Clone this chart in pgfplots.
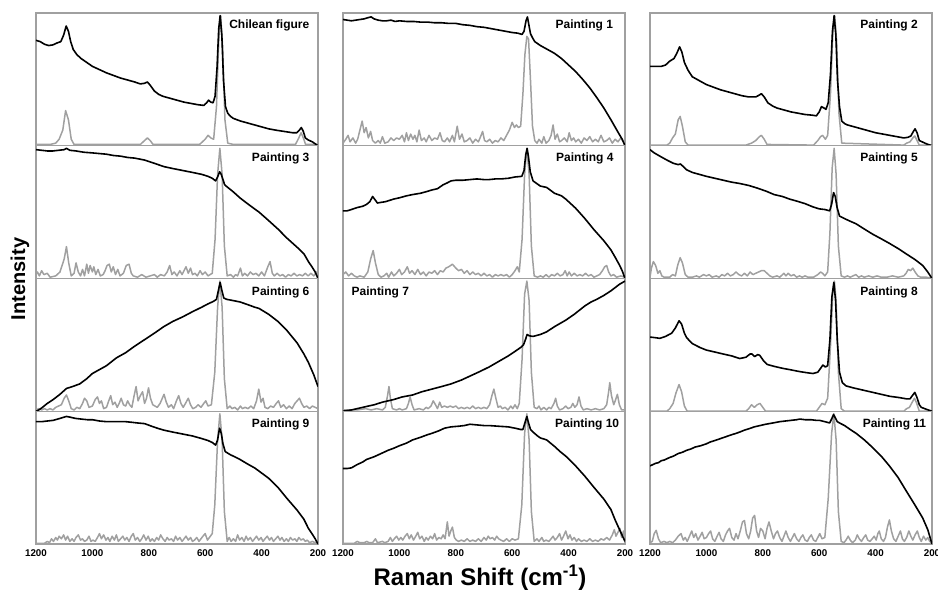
\documentclass[border=0pt]{standalone}
\usepackage{fontspec}
\setmainfont{Liberation Sans}
\usepackage{pgfplots}
\pgfplotsset{compat=1.18}
\definecolor{framegray}{RGB}{160,160,160}
\definecolor{specgray}{RGB}{160,160,160}
\pgfplotsset{
  panel/.style={scale only axis, width=282pt, height=132.75pt,
    xmin=200, xmax=1200, x dir=reverse, ymin=0, ymax=1.02,
    ytick=\empty, xtick={200,400,600,800,1000,1200}, xticklabels={},
    tick align=inside, xtick pos=bottom, major tick length=0pt,
    tick style={draw=none},
    axis line style={framegray, line width=1.4pt},
    clip=true,
    /pgf/number format/assume math mode=true,
    /pgf/number format/1000 sep={},
    xticklabel style={font=\bfseries\fontsize{9.8}{11}\selectfont, yshift=-2pt},
  },
  bottomrow/.style={xticklabels=\empty, xticklabel={\pgfmathprintnumber{\tick}}},
  blk/.style={black, line width=1.6pt, line join=round},
  gry/.style={specgray, line width=1.5pt, line join=round},
}
\newcommand{\plabel}[3]{\node[anchor=#3, font=\bfseries\fontsize{12}{14}\selectfont, inner sep=0pt] at (rel axis cs:#1) {#2};}
\begin{document}
\begin{tikzpicture}
\path[use as bounding box] (0,0) rectangle (938pt,590pt);
% ===== Row 1 =====
\begin{axis}[panel, at={(36pt,444.25pt)}, anchor=south west]
\addplot[gry] coordinates {(1200,0.01)(1150,0.01)(1130,0.02)(1118,0.05)(1105,0.12)(1095,0.27)(1085,0.2)(1075,0.05)(1065,0.01)(1000,0.01)(900,0.01)(830,0.01)(815,0.04)(805,0.06)(795,0.04)(785,0.01)(700,0.01)(620,0.01)(600,0.05)(590,0.08)(580,0.06)(570,0.05)(560,0.3)(552,0.8)(545,1)(538,0.75)(530,0.2)(520,0.02)(500,0.01)(400,0.01)(300,0.01)(280,0.01)(268,0.06)(260,0.1)(252,0.06)(244,0.01)(200,0.01)};
\addplot[blk] coordinates {(1200,0.81)(1185,0.80)(1170,0.78)(1155,0.77)(1140,0.775)(1125,0.79)(1112,0.80)(1102,0.85)(1093,0.92)(1085,0.88)(1077,0.80)(1068,0.74)(1055,0.70)(1040,0.67)(1020,0.64)(1000,0.61)(975,0.585)(950,0.56)(925,0.54)(900,0.52)(875,0.505)(850,0.49)(830,0.475)(815,0.48)(805,0.49)(795,0.465)(780,0.42)(765,0.395)(750,0.38)(725,0.365)(700,0.35)(675,0.335)(650,0.325)(625,0.315)(605,0.31)(595,0.33)(588,0.35)(580,0.335)(572,0.33)(565,0.38)(558,0.6)(552,0.9)(547,1.0)(541,0.85)(535,0.5)(528,0.3)(520,0.25)(510,0.225)(500,0.21)(475,0.19)(450,0.175)(425,0.16)(400,0.145)(375,0.13)(350,0.12)(320,0.11)(290,0.10)(275,0.10)(266,0.12)(259,0.14)(252,0.11)(245,0.06)(235,0.045)(220,0.03)(210,0.015)(200,0.0)};
\plabel{0.97,0.905}{Chilean figure}{east}
\end{axis}
\begin{axis}[panel, at={(343pt,444.25pt)}, anchor=south west]
\addplot[gry] coordinates {(1200,0.02)(1190,0.05)(1182,0.08)(1175,0.03)(1165,0.06)(1155,0.02)(1148,0.05)(1140,0.12)(1132,0.19)(1125,0.1)(1118,0.14)(1110,0.06)(1102,0.11)(1095,0.04)(1085,0.02)(1075,0.04)(1068,0.02)(1060,0.07)(1052,0.02)(1040,0.03)(1030,0.06)(1020,0.04)(1010,0.06)(1000,0.05)(990,0.08)(982,0.03)(975,0.1)(968,0.04)(960,0.09)(952,0.05)(945,0.08)(938,0.03)(930,0.12)(922,0.04)(912,0.06)(905,0.03)(895,0.08)(885,0.04)(875,0.06)(865,0.05)(856,0.1)(848,0.04)(840,0.03)(830,0.06)(822,0.03)(812,0.08)(805,0.03)(795,0.15)(787,0.05)(778,0.09)(770,0.03)(760,0.04)(750,0.06)(740,0.02)(730,0.05)(720,0.03)(712,0.07)(705,0.11)(698,0.04)(690,0.03)(680,0.05)(670,0.02)(660,0.04)(650,0.03)(640,0.06)(630,0.04)(620,0.08)(610,0.12)(600,0.18)(592,0.14)(585,0.16)(578,0.14)(570,0.15)(562,0.4)(555,0.7)(548,0.84)(542,0.82)(535,0.5)(528,0.15)(520,0.04)(512,0.02)(505,0.05)(495,0.02)(488,0.07)(480,0.02)(470,0.04)(462,0.08)(455,0.16)(448,0.05)(440,0.09)(432,0.03)(425,0.04)(415,0.06)(405,0.03)(398,0.1)(390,0.04)(382,0.06)(375,0.03)(365,0.05)(355,0.02)(345,0.06)(335,0.04)(325,0.07)(315,0.03)(305,0.05)(295,0.03)(285,0.08)(275,0.03)(265,0.04)(255,0.06)(245,0.02)(235,0.05)(225,0.03)(215,0.06)(205,0.03)(200,0.01)};
\addplot[blk] coordinates {(1200,0.97)(1185,0.965)(1170,0.96)(1155,0.965)(1140,0.97)(1125,0.975)(1110,0.985)(1100,0.99)(1090,0.975)(1075,0.965)(1060,0.96)(1045,0.96)(1030,0.965)(1015,0.955)(1000,0.96)(975,0.955)(950,0.955)(925,0.95)(900,0.95)(875,0.945)(850,0.945)(825,0.94)(800,0.94)(775,0.93)(750,0.925)(725,0.915)(700,0.91)(675,0.9)(650,0.89)(625,0.88)(600,0.87)(580,0.865)(565,0.855)(558,0.88)(551,0.96)(546,0.99)(541,0.93)(535,0.86)(528,0.83)(520,0.80)(510,0.785)(500,0.77)(475,0.74)(450,0.71)(425,0.67)(400,0.62)(375,0.57)(350,0.51)(325,0.445)(300,0.37)(275,0.29)(250,0.20)(225,0.105)(210,0.05)(200,0.0)};
\plabel{0.958,0.905}{Painting 1}{east}
\end{axis}
\begin{axis}[panel, at={(650pt,444.25pt)}, anchor=south west]
\addplot[gry] coordinates {(1200,0.005)(1140,0.005)(1130,0.02)(1120,0.06)(1110,0.09)(1100,0.2)(1093,0.225)(1085,0.15)(1075,0.03)(1065,0.005)(860,0.005)(840,0.02)(825,0.04)(812,0.07)(805,0.08)(795,0.05)(785,0.01)(620,0.005)(605,0.04)(595,0.07)(588,0.08)(578,0.05)(570,0.08)(560,0.4)(552,0.85)(545,1)(538,0.8)(530,0.25)(520,0.02)(300,0.005)(290,0.02)(278,0.03)(268,0.06)(261,0.075)(253,0.04)(245,0.005)(200,0.005)};
\addplot[blk] coordinates {(1200,0.61)(1160,0.61)(1145,0.62)(1130,0.65)(1115,0.67)(1105,0.71)(1095,0.76)(1087,0.72)(1078,0.64)(1065,0.58)(1050,0.53)(1025,0.50)(1000,0.47)(975,0.45)(950,0.43)(925,0.415)(900,0.40)(875,0.385)(850,0.375)(825,0.375)(812,0.39)(805,0.40)(795,0.375)(782,0.33)(765,0.305)(750,0.29)(725,0.275)(700,0.26)(675,0.25)(650,0.24)(625,0.235)(610,0.23)(600,0.26)(592,0.30)(583,0.29)(576,0.28)(568,0.33)(560,0.55)(553,0.88)(547,1.0)(541,0.85)(535,0.5)(528,0.3)(520,0.19)(510,0.17)(500,0.16)(475,0.145)(450,0.13)(425,0.115)(400,0.10)(375,0.09)(350,0.08)(325,0.07)(300,0.06)(285,0.065)(275,0.075)(266,0.11)(260,0.13)(253,0.1)(245,0.04)(235,0.03)(220,0.015)(200,0.0)};
\plabel{0.95,0.905}{Painting 2}{east}
\end{axis}
% ===== Row 2 =====
\begin{axis}[panel, at={(36pt,311.5pt)}, anchor=south west]
\addplot[gry] coordinates {(1200,0.03)(1195,0.05)(1188,0.02)(1180,0.06)(1172,0.03)(1160,0.04)(1150,0.01)(1130,0.02)(1115,0.05)(1100,0.15)(1092,0.245)(1084,0.12)(1075,0.02)(1065,0.04)(1058,0.12)(1050,0.05)(1042,0.02)(1035,0.07)(1028,0.02)(1020,0.11)(1014,0.04)(1008,0.1)(1000,0.05)(995,0.09)(988,0.03)(980,0.07)(972,0.02)(962,0.03)(955,0.06)(948,0.1)(940,0.11)(933,0.05)(926,0.09)(918,0.03)(910,0.07)(902,0.02)(890,0.04)(880,0.1)(870,0.11)(862,0.04)(855,0.02)(840,0.01)(825,0.03)(810,0.01)(795,0.02)(780,0.03)(770,0.01)(758,0.03)(745,0.02)(735,0.05)(726,0.1)(718,0.03)(710,0.05)(700,0.02)(690,0.06)(682,0.03)(675,0.06)(668,0.09)(660,0.04)(652,0.08)(645,0.03)(636,0.04)(628,0.02)(618,0.06)(610,0.03)(600,0.05)(590,0.02)(575,0.04)(565,0.3)(556,0.8)(548,1)(540,0.8)(532,0.25)(522,0.02)(510,0.03)(500,0.01)(492,0.03)(485,0.02)(475,0.08)(468,0.02)(460,0.04)(450,0.02)(440,0.05)(430,0.03)(420,0.04)(410,0.02)(400,0.05)(390,0.02)(378,0.09)(370,0.13)(362,0.04)(355,0.02)(345,0.04)(335,0.02)(325,0.03)(315,0.01)(305,0.03)(295,0.02)(285,0.04)(275,0.02)(265,0.03)(255,0.02)(245,0.04)(235,0.02)(225,0.04)(215,0.02)(205,0.05)(200,0.02)};
\addplot[blk] coordinates {(1200,0.99)(1180,0.985)(1160,0.98)(1140,0.98)(1120,0.985)(1100,0.99)(1092,1.0)(1080,0.985)(1058,0.98)(1030,0.97)(1000,0.965)(975,0.96)(950,0.955)(925,0.945)(900,0.94)(875,0.93)(850,0.925)(815,0.91)(780,0.885)(747,0.86)(715,0.845)(680,0.83)(645,0.815)(612,0.80)(590,0.785)(575,0.77)(563,0.75)(556,0.78)(549,0.82)(543,0.80)(537,0.76)(531,0.72)(520,0.7)(500,0.665)(477,0.62)(450,0.575)(425,0.535)(409,0.51)(375,0.445)(342,0.38)(310,0.31)(274,0.24)(250,0.19)(234,0.13)(220,0.085)(210,0.05)(200,0.0)};
\plabel{0.97,0.905}{Painting 3}{east}
\end{axis}
\begin{axis}[panel, at={(343pt,311.5pt)}, anchor=south west]
\addplot[gry] coordinates {(1200,0.03)(1190,0.05)(1180,0.02)(1170,0.04)(1160,0.02)(1150,0.01)(1140,0.02)(1125,0.01)(1112,0.05)(1102,0.15)(1093,0.215)(1085,0.12)(1075,0.03)(1065,0.01)(1055,0.02)(1045,0.04)(1038,0.01)(1028,0.05)(1020,0.02)(1010,0.04)(1000,0.07)(992,0.03)(982,0.05)(972,0.09)(964,0.04)(955,0.06)(945,0.03)(935,0.07)(925,0.03)(915,0.05)(905,0.02)(895,0.05)(885,0.04)(875,0.06)(865,0.03)(855,0.06)(845,0.05)(835,0.08)(825,0.09)(812,0.11)(800,0.08)(790,0.06)(780,0.07)(770,0.04)(760,0.06)(750,0.03)(740,0.05)(730,0.03)(720,0.04)(710,0.02)(700,0.04)(690,0.02)(680,0.03)(670,0.01)(660,0.03)(650,0.02)(640,0.03)(630,0.02)(620,0.03)(610,0.01)(600,0.03)(590,0.06)(582,0.09)(575,0.05)(565,0.3)(556,0.8)(548,1)(540,0.8)(532,0.25)(522,0.02)(510,0.01)(500,0.02)(490,0.01)(480,0.03)(470,0.01)(460,0.03)(450,0.02)(440,0.04)(430,0.02)(420,0.03)(412,0.06)(405,0.02)(398,0.05)(390,0.02)(380,0.04)(370,0.02)(360,0.03)(350,0.02)(340,0.04)(330,0.02)(320,0.03)(310,0.01)(300,0.02)(290,0.03)(280,0.06)(272,0.09)(265,0.1)(258,0.05)(250,0.02)(240,0.03)(230,0.01)(215,0.02)(200,0.01)};
\addplot[blk] coordinates {(1200,0.52)(1185,0.52)(1170,0.53)(1150,0.545)(1130,0.555)(1116,0.57)(1105,0.59)(1095,0.63)(1088,0.61)(1078,0.58)(1065,0.585)(1050,0.59)(1035,0.60)(1021,0.61)(1000,0.62)(975,0.635)(953,0.645)(925,0.655)(900,0.67)(885,0.68)(865,0.69)(845,0.72)(830,0.735)(817,0.75)(800,0.755)(775,0.755)(750,0.76)(725,0.765)(700,0.76)(682,0.76)(660,0.765)(640,0.765)(614,0.77)(590,0.78)(566,0.785)(558,0.83)(552,0.95)(547,1.0)(542,0.93)(536,0.82)(526,0.75)(510,0.725)(500,0.71)(478,0.70)(450,0.655)(425,0.635)(410,0.61)(375,0.54)(342,0.46)(310,0.375)(275,0.29)(250,0.22)(234,0.16)(220,0.105)(210,0.06)(200,0.0)};
\plabel{0.96,0.905}{Painting 4}{east}
\end{axis}
\begin{axis}[panel, at={(650pt,311.5pt)}, anchor=south west]
\addplot[gry] coordinates {(1200,0.01)(1195,0.08)(1188,0.13)(1180,0.1)(1172,0.04)(1165,0.06)(1158,0.02)(1150,0.01)(1130,0.01)(1120,0.03)(1110,0.02)(1102,0.1)(1093,0.16)(1085,0.12)(1075,0.03)(1065,0.01)(1050,0.01)(1035,0.02)(1025,0.01)(1010,0.03)(1000,0.02)(990,0.03)(980,0.01)(965,0.02)(955,0.01)(945,0.03)(935,0.02)(925,0.04)(915,0.02)(905,0.03)(895,0.05)(885,0.03)(875,0.02)(865,0.04)(855,0.02)(845,0.05)(835,0.03)(825,0.04)(815,0.05)(805,0.06)(795,0.06)(785,0.04)(775,0.02)(765,0.01)(750,0.02)(740,0.01)(725,0.04)(718,0.02)(710,0.04)(700,0.02)(690,0.03)(680,0.01)(670,0.02)(660,0.01)(650,0.02)(640,0.01)(620,0.01)(605,0.03)(595,0.05)(588,0.04)(580,0.02)(570,0.05)(562,0.35)(554,0.85)(547,1)(540,0.8)(532,0.25)(522,0.02)(510,0.01)(500,0.02)(490,0.01)(480,0.02)(470,0.03)(460,0.01)(450,0.02)(440,0.01)(425,0.02)(410,0.01)(395,0.02)(380,0.01)(360,0.01)(340,0.02)(320,0.01)(300,0.02)(292,0.04)(284,0.07)(276,0.06)(268,0.08)(260,0.05)(250,0.02)(240,0.01)(220,0.01)(200,0.0)};
\addplot[blk] coordinates {(1200,0.99)(1185,0.965)(1165,0.94)(1140,0.91)(1117,0.885)(1100,0.875)(1092,0.88)(1082,0.86)(1070,0.835)(1050,0.815)(1025,0.80)(1000,0.785)(970,0.77)(940,0.755)(910,0.74)(882,0.73)(850,0.715)(820,0.695)(787,0.67)(760,0.645)(730,0.63)(705,0.61)(680,0.595)(650,0.575)(622,0.55)(600,0.535)(580,0.53)(563,0.52)(556,0.57)(549,0.66)(543,0.63)(537,0.55)(528,0.48)(510,0.46)(490,0.44)(469,0.42)(440,0.38)(410,0.34)(380,0.305)(351,0.27)(320,0.23)(292,0.19)(260,0.145)(233,0.10)(215,0.05)(200,0.0)};
\plabel{0.95,0.905}{Painting 5}{east}
\end{axis}
% ===== Row 3 =====
\begin{axis}[panel, at={(36pt,178.75pt)}, anchor=south west]
\addplot[gry] coordinates {(1200,0.01)(1190,0.02)(1180,0.01)(1170,0.02)(1160,0.01)(1150,0.02)(1140,0.01)(1130,0.03)(1110,0.05)(1100,0.1)(1092,0.125)(1084,0.08)(1075,0.02)(1065,0.01)(1055,0.03)(1045,0.02)(1035,0.06)(1028,0.1)(1020,0.08)(1012,0.03)(1000,0.04)(990,0.09)(982,0.11)(975,0.06)(968,0.08)(960,0.02)(950,0.03)(942,0.08)(935,0.12)(928,0.05)(920,0.07)(912,0.03)(905,0.06)(898,0.1)(890,0.05)(882,0.04)(875,0.08)(868,0.05)(860,0.03)(852,0.12)(845,0.19)(838,0.08)(830,0.12)(822,0.15)(815,0.06)(808,0.1)(801,0.18)(794,0.1)(786,0.05)(778,0.04)(770,0.03)(760,0.06)(752,0.1)(746,0.13)(738,0.07)(730,0.03)(720,0.05)(712,0.02)(702,0.08)(694,0.12)(686,0.06)(678,0.03)(670,0.06)(660,0.1)(652,0.05)(644,0.02)(634,0.03)(625,0.05)(615,0.03)(605,0.06)(598,0.08)(590,0.04)(578,0.05)(566,0.3)(556,0.8)(548,1)(540,0.8)(532,0.25)(522,0.02)(512,0.04)(505,0.02)(495,0.03)(485,0.01)(475,0.04)(468,0.02)(458,0.03)(448,0.02)(438,0.04)(428,0.02)(418,0.08)(410,0.17)(402,0.07)(395,0.1)(388,0.03)(378,0.02)(368,0.04)(358,0.03)(348,0.06)(340,0.08)(332,0.03)(322,0.05)(312,0.02)(302,0.04)(292,0.02)(282,0.06)(274,0.08)(266,0.1)(258,0.06)(250,0.03)(240,0.04)(230,0.02)(220,0.04)(210,0.03)(200,0.02)};
\addplot[blk] coordinates {(1200,0.0)(1190,0.01)(1180,0.025)(1160,0.06)(1139,0.09)(1115,0.13)(1092,0.175)(1070,0.19)(1045,0.21)(1020,0.25)(1000,0.29)(975,0.32)(950,0.35)(915,0.41)(882,0.45)(850,0.5)(815,0.55)(780,0.6)(747,0.65)(715,0.69)(680,0.725)(645,0.765)(612,0.80)(590,0.825)(570,0.845)(560,0.86)(553,0.93)(547,0.99)(541,0.93)(534,0.87)(524,0.86)(500,0.85)(477,0.84)(450,0.82)(425,0.80)(409,0.79)(375,0.745)(342,0.69)(310,0.62)(274,0.525)(250,0.44)(234,0.375)(215,0.28)(200,0.19)};
\plabel{0.97,0.895}{Painting 6}{east}
\end{axis}
\begin{axis}[panel, at={(343pt,178.75pt)}, anchor=south west]
\addplot[gry] coordinates {(1200,0.01)(1150,0.01)(1120,0.02)(1100,0.01)(1080,0.02)(1060,0.01)(1050,0.03)(1042,0.12)(1037,0.19)(1032,0.1)(1025,0.02)(1010,0.01)(1000,0.02)(990,0.01)(975,0.02)(968,0.06)(962,0.11)(955,0.05)(948,0.01)(930,0.02)(915,0.01)(905,0.03)(898,0.02)(888,0.04)(880,0.08)(872,0.05)(865,0.02)(857,0.07)(850,0.03)(840,0.04)(830,0.03)(820,0.04)(810,0.03)(800,0.04)(790,0.02)(780,0.03)(770,0.02)(760,0.03)(750,0.02)(740,0.04)(730,0.02)(720,0.03)(710,0.02)(700,0.03)(690,0.02)(680,0.05)(672,0.12)(665,0.17)(658,0.1)(650,0.03)(642,0.04)(635,0.02)(625,0.03)(615,0.01)(605,0.04)(598,0.02)(590,0.05)(582,0.02)(575,0.06)(565,0.4)(556,0.9)(548,1)(540,0.85)(532,0.3)(522,0.03)(512,0.02)(505,0.04)(498,0.01)(488,0.03)(478,0.01)(470,0.03)(462,0.02)(452,0.06)(446,0.1)(440,0.04)(432,0.01)(420,0.02)(410,0.04)(402,0.02)(392,0.03)(385,0.06)(378,0.03)(370,0.05)(363,0.11)(356,0.04)(348,0.01)(335,0.02)(320,0.01)(305,0.02)(290,0.01)(275,0.02)(265,0.05)(258,0.15)(254,0.22)(248,0.12)(240,0.05)(233,0.09)(227,0.13)(220,0.05)(212,0.01)(200,0.01)};
\addplot[blk] coordinates {(1200,0.0)(1170,0.01)(1140,0.025)(1110,0.04)(1089,0.05)(1060,0.07)(1020,0.09)(990,0.11)(953,0.125)(920,0.15)(885,0.17)(850,0.19)(817,0.21)(780,0.24)(750,0.27)(715,0.305)(682,0.34)(650,0.38)(614,0.425)(590,0.46)(570,0.49)(560,0.51)(553,0.55)(547,0.59)(540,0.58)(526,0.575)(500,0.59)(478,0.61)(450,0.65)(410,0.70)(380,0.745)(342,0.81)(320,0.84)(300,0.86)(275,0.89)(250,0.925)(220,0.975)(200,1.0)};
\plabel{0.03,0.895}{Painting 7}{west}
\end{axis}
\begin{axis}[panel, at={(650pt,178.75pt)}, anchor=south west]
\addplot[gry] coordinates {(1200,0.0)(1140,0.0)(1130,0.02)(1118,0.06)(1108,0.14)(1097,0.205)(1088,0.15)(1078,0.04)(1068,0.0)(860,0.0)(850,0.02)(840,0.05)(830,0.03)(820,0.05)(810,0.06)(800,0.03)(790,0.0)(610,0.0)(600,0.03)(590,0.06)(580,0.05)(570,0.1)(560,0.5)(552,0.9)(546,1)(540,0.85)(532,0.3)(522,0.02)(510,0.0)(300,0.0)(290,0.02)(280,0.03)(270,0.07)(262,0.1)(254,0.06)(245,0.0)(200,0.0)};
\addplot[blk] coordinates {(1200,0.57)(1180,0.565)(1165,0.56)(1145,0.575)(1123,0.60)(1110,0.64)(1097,0.695)(1088,0.67)(1078,0.60)(1070,0.565)(1050,0.52)(1023,0.49)(1000,0.47)(970,0.455)(941,0.44)(910,0.425)(882,0.405)(860,0.415)(845,0.44)(838,0.44)(829,0.42)(818,0.435)(811,0.43)(798,0.39)(785,0.36)(760,0.345)(730,0.33)(705,0.32)(670,0.305)(640,0.295)(622,0.29)(605,0.30)(595,0.33)(587,0.355)(578,0.34)(570,0.35)(562,0.55)(555,0.88)(548,0.99)(542,0.85)(536,0.55)(528,0.3)(518,0.22)(505,0.195)(480,0.18)(450,0.165)(410,0.145)(380,0.13)(350,0.115)(316,0.105)(290,0.095)(278,0.095)(268,0.125)(261,0.145)(254,0.11)(245,0.05)(238,0.03)(220,0.015)(200,0.0)};
\plabel{0.95,0.895}{Painting 8}{east}
\end{axis}
% ===== Row 4 =====
\begin{axis}[panel, bottomrow, at={(36pt,46pt)}, anchor=south west]
\addplot[gry] coordinates {(1200,0.005)(1170,0.005)(1160,0.02)(1152,0.01)(1145,0.04)(1138,0.02)(1130,0.05)(1124,0.03)(1118,0.06)(1110,0.04)(1102,0.07)(1095,0.03)(1088,0.06)(1080,0.02)(1072,0.04)(1065,0.02)(1058,0.05)(1050,0.07)(1042,0.03)(1035,0.04)(1028,0.02)(1020,0.03)(1012,0.06)(1005,0.02)(998,0.03)(990,0.02)(982,0.05)(975,0.08)(968,0.04)(960,0.07)(952,0.03)(945,0.05)(938,0.02)(930,0.06)(922,0.03)(915,0.07)(908,0.02)(900,0.04)(892,0.06)(885,0.03)(878,0.05)(870,0.02)(862,0.06)(855,0.08)(848,0.03)(840,0.05)(832,0.02)(825,0.04)(818,0.07)(810,0.03)(802,0.06)(795,0.02)(788,0.04)(780,0.02)(772,0.05)(765,0.03)(758,0.07)(750,0.04)(742,0.02)(735,0.05)(728,0.03)(720,0.04)(712,0.02)(705,0.06)(698,0.03)(690,0.05)(682,0.02)(675,0.04)(668,0.06)(660,0.03)(652,0.05)(645,0.02)(638,0.03)(630,0.05)(622,0.02)(615,0.04)(608,0.06)(600,0.08)(592,0.03)(585,0.05)(575,0.08)(566,0.3)(556,0.8)(548,1)(540,0.8)(532,0.25)(522,0.02)(515,0.05)(508,0.02)(500,0.04)(492,0.02)(485,0.07)(478,0.03)(470,0.05)(462,0.02)(455,0.06)(448,0.03)(440,0.05)(432,0.02)(425,0.04)(418,0.06)(410,0.03)(402,0.05)(395,0.02)(388,0.04)(380,0.06)(372,0.03)(365,0.05)(358,0.02)(350,0.04)(342,0.06)(335,0.03)(328,0.05)(320,0.02)(312,0.04)(305,0.02)(298,0.05)(290,0.03)(282,0.04)(275,0.02)(268,0.05)(260,0.03)(252,0.04)(245,0.02)(238,0.03)(230,0.01)(220,0.02)(210,0.01)(200,0.02)};
\addplot[blk] coordinates {(1200,0.94)(1180,0.94)(1160,0.945)(1139,0.95)(1115,0.965)(1100,0.975)(1092,0.98)(1080,0.975)(1060,0.965)(1040,0.96)(1018,0.955)(1000,0.955)(975,0.945)(950,0.94)(925,0.94)(900,0.94)(882,0.94)(860,0.935)(840,0.93)(815,0.925)(790,0.905)(770,0.89)(747,0.875)(715,0.86)(680,0.845)(645,0.83)(612,0.81)(590,0.795)(575,0.78)(563,0.76)(556,0.80)(549,0.89)(543,0.85)(537,0.77)(529,0.71)(510,0.685)(500,0.675)(477,0.65)(450,0.615)(425,0.585)(409,0.56)(375,0.505)(342,0.435)(310,0.35)(274,0.26)(250,0.19)(234,0.12)(220,0.075)(210,0.04)(200,0.0)};
\plabel{0.97,0.9}{Painting 9}{east}
\end{axis}
\begin{axis}[panel, bottomrow, at={(343pt,46pt)}, anchor=south west]
\addplot[gry] coordinates {(1200,0.005)(1160,0.005)(1150,0.02)(1140,0.01)(1125,0.01)(1115,0.02)(1108,0.01)(1095,0.01)(1085,0.04)(1078,0.01)(1060,0.02)(1052,0.01)(1040,0.02)(1032,0.05)(1025,0.02)(1018,0.04)(1010,0.06)(1002,0.03)(995,0.05)(988,0.03)(980,0.06)(972,0.08)(965,0.04)(958,0.07)(950,0.03)(942,0.06)(935,0.09)(928,0.04)(920,0.06)(912,0.02)(905,0.05)(898,0.03)(890,0.06)(882,0.04)(875,0.08)(868,0.03)(860,0.05)(852,0.04)(845,0.07)(838,0.04)(830,0.17)(824,0.06)(818,0.1)(812,0.13)(805,0.05)(798,0.03)(790,0.02)(780,0.03)(770,0.02)(760,0.04)(750,0.02)(740,0.03)(730,0.02)(720,0.04)(710,0.02)(700,0.05)(692,0.03)(685,0.06)(678,0.04)(670,0.05)(662,0.03)(655,0.06)(648,0.04)(640,0.03)(630,0.02)(620,0.04)(610,0.02)(600,0.04)(590,0.03)(578,0.04)(566,0.3)(556,0.85)(548,1)(540,0.8)(532,0.25)(522,0.02)(512,0.04)(505,0.02)(495,0.05)(488,0.02)(480,0.03)(470,0.02)(462,0.04)(455,0.06)(448,0.03)(440,0.05)(432,0.08)(425,0.03)(418,0.06)(410,0.1)(402,0.04)(395,0.07)(388,0.03)(380,0.05)(372,0.02)(365,0.04)(355,0.02)(345,0.03)(335,0.02)(325,0.04)(315,0.02)(305,0.03)(295,0.02)(285,0.04)(275,0.03)(265,0.05)(255,0.03)(245,0.07)(238,0.11)(232,0.06)(225,0.09)(218,0.12)(212,0.05)(205,0.1)(200,0.03)};
\addplot[blk] coordinates {(1200,0.58)(1185,0.58)(1170,0.585)(1150,0.61)(1130,0.63)(1116,0.65)(1090,0.67)(1060,0.70)(1040,0.72)(1021,0.735)(1000,0.755)(975,0.775)(953,0.80)(925,0.82)(900,0.84)(885,0.85)(860,0.87)(840,0.89)(817,0.90)(790,0.905)(770,0.91)(750,0.92)(725,0.915)(700,0.91)(682,0.91)(650,0.905)(614,0.90)(590,0.89)(570,0.88)(562,0.88)(555,0.93)(548,0.98)(542,0.93)(535,0.88)(526,0.86)(510,0.83)(500,0.815)(478,0.80)(450,0.75)(430,0.71)(410,0.675)(375,0.6)(342,0.52)(310,0.435)(275,0.345)(250,0.265)(234,0.18)(215,0.09)(200,0.02)};
\plabel{0.98,0.9}{Painting 10}{east}
\end{axis}
\begin{axis}[panel, bottomrow, at={(650pt,46pt)}, anchor=south west]
\addplot[gry] coordinates {(1200,0.01)(1192,0.02)(1185,0.08)(1178,0.105)(1170,0.04)(1162,0.01)(1150,0.02)(1140,0.01)(1130,0.02)(1120,0.01)(1110,0.03)(1100,0.06)(1090,0.08)(1082,0.03)(1075,0.05)(1068,0.02)(1060,0.06)(1052,0.1)(1045,0.05)(1038,0.08)(1030,0.03)(1022,0.06)(1015,0.09)(1008,0.04)(1000,0.05)(992,0.08)(985,0.1)(978,0.04)(970,0.02)(962,0.06)(955,0.09)(948,0.04)(940,0.02)(932,0.07)(925,0.1)(918,0.12)(910,0.05)(902,0.03)(895,0.08)(888,0.04)(880,0.1)(872,0.17)(865,0.18)(858,0.08)(850,0.04)(843,0.1)(836,0.2)(829,0.22)(822,0.1)(815,0.05)(808,0.12)(800,0.1)(792,0.04)(785,0.12)(778,0.17)(770,0.1)(762,0.04)(755,0.08)(748,0.1)(740,0.05)(732,0.02)(725,0.06)(718,0.1)(710,0.05)(702,0.02)(695,0.05)(688,0.08)(680,0.04)(672,0.02)(665,0.05)(658,0.07)(650,0.03)(642,0.02)(635,0.05)(628,0.07)(620,0.03)(612,0.02)(605,0.05)(598,0.08)(590,0.04)(580,0.05)(568,0.35)(556,0.85)(548,1)(540,0.8)(532,0.25)(522,0.02)(512,0.01)(505,0.03)(497,0.06)(490,0.03)(482,0.01)(472,0.03)(465,0.07)(458,0.04)(450,0.02)(442,0.05)(435,0.07)(428,0.03)(420,0.02)(412,0.04)(405,0.06)(398,0.03)(392,0.08)(387,0.1)(380,0.04)(372,0.02)(365,0.05)(358,0.13)(351,0.185)(344,0.1)(336,0.04)(328,0.02)(320,0.06)(312,0.1)(305,0.04)(298,0.02)(290,0.05)(282,0.1)(275,0.06)(268,0.03)(260,0.07)(252,0.1)(245,0.05)(238,0.02)(230,0.06)(222,0.03)(215,0.05)(208,0.02)(200,0.01)};
\addplot[blk] coordinates {(1200,0.60)(1190,0.61)(1180,0.62)(1170,0.625)(1160,0.64)(1150,0.645)(1140,0.655)(1130,0.665)(1117,0.675)(1100,0.695)(1085,0.705)(1070,0.72)(1055,0.73)(1040,0.745)(1020,0.755)(1000,0.77)(985,0.785)(970,0.795)(950,0.81)(930,0.825)(910,0.84)(895,0.85)(882,0.86)(865,0.875)(850,0.885)(830,0.9)(810,0.91)(790,0.92)(764,0.93)(740,0.94)(720,0.945)(700,0.95)(680,0.955)(669,0.96)(650,0.955)(630,0.955)(610,0.95)(599,0.95)(580,0.94)(563,0.93)(556,0.96)(549,0.995)(543,0.97)(536,0.94)(528,0.93)(510,0.91)(490,0.88)(469,0.85)(440,0.8)(410,0.74)(380,0.675)(351,0.60)(320,0.51)(292,0.41)(262,0.305)(233,0.20)(215,0.11)(200,0.0)};
\plabel{0.98,0.9}{Painting 11}{east}
\end{axis}
\node[rotate=90, font=\bfseries\fontsize{20}{24}\selectfont] at (20pt,311pt) {Intensity};
\node[font=\bfseries\fontsize{24}{28}\selectfont] at (480pt,12pt) {Raman Shift (cm\textsuperscript{-1})};
\end{tikzpicture}
\end{document}
